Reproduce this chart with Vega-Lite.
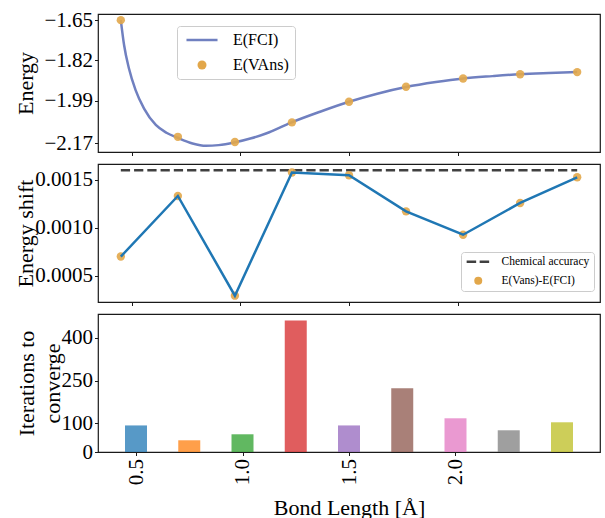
{
  "$schema": "https://vega.github.io/schema/vega-lite/v6.json",
  "background": "white",
  "padding": {"left": 13, "top": 8, "right": 0, "bottom": 0},
  "autosize": {"type": "pad"},
  "config": {
    "font": "Liberation Serif",
    "view": {"stroke": "#1a1a1a", "strokeWidth": 1.2},
    "axis": {
      "domain": false, "grid": false,
      "tickColor": "#1a1a1a", "tickSize": 3.5, "tickWidth": 1,
      "labelFont": "Liberation Serif", "labelFontSize": 21, "labelColor": "#000", "labelPadding": 2,
      "titleFont": "Liberation Serif", "titleFontSize": 22, "titleFontWeight": "normal", "titleColor": "#000"
    },
    "legend": {"labelFont": "Liberation Serif", "labelColor": "#000"}
  },
  "datasets": {
    "fci": [
      {"bond": 0.45, "energy": -1.650},
      {"bond": 0.465, "energy": -1.755},
      {"bond": 0.4875, "energy": -1.854},
      {"bond": 0.518, "energy": -1.945},
      {"bond": 0.557, "energy": -2.023},
      {"bond": 0.611, "energy": -2.092},
      {"bond": 0.66, "energy": -2.125},
      {"bond": 0.711, "energy": -2.146},
      {"bond": 0.78, "energy": -2.170},
      {"bond": 0.841, "energy": -2.180},
      {"bond": 0.90, "energy": -2.177},
      {"bond": 0.971, "energy": -2.166},
      {"bond": 1.05, "energy": -2.148},
      {"bond": 1.118, "energy": -2.128},
      {"bond": 1.233, "energy": -2.082},
      {"bond": 1.37, "energy": -2.035},
      {"bond": 1.5, "energy": -1.994},
      {"bond": 1.63, "energy": -1.960},
      {"bond": 1.7625, "energy": -1.932},
      {"bond": 1.9, "energy": -1.911},
      {"bond": 2.025, "energy": -1.896},
      {"bond": 2.16, "energy": -1.886},
      {"bond": 2.2875, "energy": -1.878},
      {"bond": 2.42, "energy": -1.873},
      {"bond": 2.55, "energy": -1.869}
    ],
    "vans": [
      {"bond": 0.45, "energy": -1.650, "shift": 0.000699},
      {"bond": 0.7125, "energy": -2.142, "shift": 0.001332},
      {"bond": 0.975, "energy": -2.164, "shift": 0.000290},
      {"bond": 1.2375, "energy": -2.081, "shift": 0.001577},
      {"bond": 1.5, "energy": -1.994, "shift": 0.001548},
      {"bond": 1.7625, "energy": -1.931, "shift": 0.001171},
      {"bond": 2.025, "energy": -1.896, "shift": 0.000927},
      {"bond": 2.2875, "energy": -1.878, "shift": 0.001259},
      {"bond": 2.55, "energy": -1.869, "shift": 0.001527}
    ],
    "acc": [
      {"start": 0.45, "end": 2.55, "shift": 0.0016}
    ],
    "iters": [
      {"bond": 0.5, "iterations": 93},
      {"bond": 0.75, "iterations": 41},
      {"bond": 1.0, "iterations": 62},
      {"bond": 1.25, "iterations": 460},
      {"bond": 1.5, "iterations": 93},
      {"bond": 1.75, "iterations": 223},
      {"bond": 2.0, "iterations": 118},
      {"bond": 2.25, "iterations": 76},
      {"bond": 2.5, "iterations": 104}
    ]
  },
  "spacing": 6,
  "resolve": {
    "scale": {"x": "independent", "y": "independent", "color": "independent"},
    "legend": {"color": "independent"}
  },
  "vconcat": [
    {
      "width": 502, "height": 138,
      "layer": [
        {
          "data": {"name": "fci"},
          "mark": {"type": "line", "interpolate": "monotone", "strokeWidth": 2.5},
          "encoding": {
            "x": {"field": "bond", "type": "quantitative",
                  "scale": {"domain": [0.345, 2.655], "nice": false, "zero": false},
                  "axis": {"values": [0.5, 1, 1.5, 2], "labels": false, "title": null}},
            "y": {"field": "energy", "type": "quantitative",
                  "scale": {"domain": [-2.206, -1.624], "nice": false, "zero": false},
                  "axis": {"values": [-1.65, -1.82, -1.99, -2.17], "format": ".2f", "title": "Energy",
                           "titleX": -73, "titleY": 69, "titleAngle": 270, "titleAlign": "center", "titleBaseline": "middle"}},
            "color": {"datum": "E(FCI)",
                      "scale": {"domain": ["E(FCI)", "E(VAns)"], "range": ["#7080c0", "#e2a74a"]},
                      "legend": {
                        "title": null, "orient": "none", "legendX": 79, "legendY": 12,
                        "symbolSize": 81, "symbolOffset": 11, "labelOffset": 23, "labelFontSize": 16,
                        "rowPadding": 9, "padding": 6, "fillColor": "white", "strokeColor": "#cccccc", "cornerRadius": 3,
                        "encode": {"symbols": {"update": {
                          "shape": {"signal": "datum.value === 'E(FCI)' ? 'M-3.45,0H3.45' : 'circle'"},
                          "stroke": {"signal": "datum.value === 'E(FCI)' ? '#7080c0' : '#e2a74a'"},
                          "strokeWidth": {"signal": "datum.value === 'E(FCI)' ? 2.5 : 0"},
                          "fill": {"signal": "datum.value === 'E(FCI)' ? 'transparent' : '#e2a74a'"},
                          "opacity": {"value": 1}
                        }}}
                      }}
          }
        },
        {
          "data": {"name": "vans"},
          "mark": {"type": "point", "filled": true, "size": 70, "opacity": 0.9},
          "encoding": {
            "x": {"field": "bond", "type": "quantitative"},
            "y": {"field": "energy", "type": "quantitative"},
            "color": {"datum": "E(VAns)"}
          }
        }
      ]
    },
    {
      "width": 502, "height": 138,
      "layer": [
        {
          "data": {"name": "acc"},
          "mark": {"type": "rule", "strokeWidth": 2.5, "strokeDash": [9.25, 4]},
          "encoding": {
            "x": {"field": "start", "type": "quantitative",
                  "scale": {"domain": [0.345, 2.655], "nice": false, "zero": false},
                  "axis": {"values": [0.5, 1, 1.5, 2], "labels": false, "title": null}},
            "x2": {"field": "end"},
            "y": {"field": "shift", "type": "quantitative",
                  "scale": {"domain": [0.000224, 0.001666], "nice": false, "zero": false},
                  "axis": {"values": [0.0005, 0.001, 0.0015], "format": ".4f", "title": "Energy shift",
                           "titleX": -73, "titleY": 69, "titleAngle": 270, "titleAlign": "center", "titleBaseline": "middle"}},
            "color": {"datum": "Chemical accuracy",
                      "scale": {"domain": ["Chemical accuracy", "E(Vans)-E(FCI)"], "range": ["#404040", "#e2a74a"]},
                      "legend": {
                        "title": null, "orient": "none", "legendX": 363, "legendY": 88,
                        "symbolSize": 64, "symbolOffset": 7.5, "labelOffset": 17.5, "labelFontSize": 11.5,
                        "rowPadding": 6, "padding": 4, "fillColor": "white", "strokeColor": "#cccccc", "cornerRadius": 3,
                        "encode": {"symbols": {"update": {
                          "shape": {"signal": "datum.value === 'Chemical accuracy' ? 'M-2.9,0H2.9' : 'circle'"},
                          "stroke": {"signal": "datum.value === 'Chemical accuracy' ? '#404040' : '#e2a74a'"},
                          "strokeWidth": {"signal": "datum.value === 'Chemical accuracy' ? 2.5 : 0"},
                          "strokeDash": {"signal": "datum.value === 'Chemical accuracy' ? [9.5, 3.5] : []"},
                          "fill": {"signal": "datum.value === 'Chemical accuracy' ? 'transparent' : '#e2a74a'"},
                          "opacity": {"value": 1}
                        }}}
                      }}
          }
        },
        {
          "data": {"name": "vans"},
          "mark": {"type": "point", "filled": true, "size": 70, "opacity": 0.9},
          "encoding": {
            "x": {"field": "bond", "type": "quantitative"},
            "y": {"field": "shift", "type": "quantitative"},
            "color": {"datum": "E(Vans)-E(FCI)"}
          }
        },
        {
          "data": {"name": "vans"},
          "mark": {"type": "line", "color": "#1f77b4", "strokeWidth": 2.5},
          "encoding": {
            "x": {"field": "bond", "type": "quantitative"},
            "y": {"field": "shift", "type": "quantitative"}
          }
        }
      ]
    },
    {
      "width": 502, "height": 138,
      "data": {"name": "iters"},
      "mark": {"type": "bar", "width": 22, "opacity": 0.75},
      "encoding": {
        "x": {"field": "bond", "type": "quantitative",
              "scale": {"domain": [0.345, 2.655], "nice": false, "zero": false},
              "axis": {"values": [0.5, 1, 1.5, 2], "format": ".1f", "labelAngle": 270, "labelPadding": 3,
                       "title": "Bond Length [Å]", "titleY": 55, "titleBaseline": "middle"}},
        "y": {"field": "iterations", "type": "quantitative",
              "scale": {"domain": [0, 483], "nice": false},
              "axis": {"values": [0, 100, 250, 400], "title": ["Iterations to", "converge"],
                       "titleX": -72, "titleY": 69, "titleAngle": 270, "titleAlign": "center", "titleBaseline": "middle", "titleLineHeight": 26}},
        "color": {"field": "bond", "type": "nominal",
                  "scale": {"range": ["#1f77b4", "#ff7f0e", "#2ca02c", "#d62728", "#9467bd", "#8c564b", "#e377c2", "#7f7f7f", "#bcbd22"]},
                  "legend": null}
      }
    }
  ]
}
